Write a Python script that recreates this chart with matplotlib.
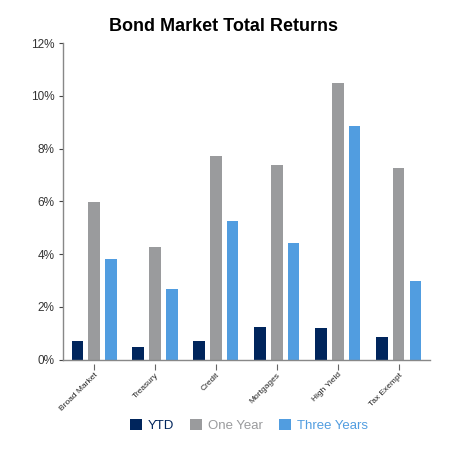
import matplotlib
matplotlib.use("Agg")
import matplotlib.pyplot as plt
import matplotlib.transforms as mtransforms
import numpy as np
from matplotlib.ticker import FuncFormatter

plt.rcParams['font.family'] = ['Liberation Sans', 'DejaVu Sans']

categories = ["Broad Market", "Treasury", "Credit", "Mortgages", "High Yield", "Tax Exempt"]
ytd = [0.72, 0.49, 0.72, 1.24, 1.19, 0.85]
one_year = [5.97, 4.29, 7.71, 7.37, 10.48, 7.26]
three_years = [3.81, 2.68, 5.27, 4.43, 8.85, 2.97]
series_names = ["YTD", "One Year", "Three Years"]
colors = ["#00255c", "#9a9b9d", "#519de0"]

fig = plt.figure(figsize=(4.5, 4.5), dpi=100)
ax = fig.add_axes([0.14, 0.2007, 0.815, 0.7033])

x = np.arange(len(categories))
w = 0.19
off = 0.275
handles = []
for i, (vals, c, name) in enumerate(zip([ytd, one_year, three_years], colors, series_names)):
    b = ax.bar(x + (i - 1) * off, vals, width=w, color=c, label=name, zorder=2)
    handles.append(b)

ax.set_xlim(-0.51, 5.51)
ax.set_ylim(0, 12)
ax.set_yticks(np.arange(0, 13, 2))
ax.yaxis.set_major_formatter(FuncFormatter(lambda v, p: f"{int(v)}%"))
ax.set_xticks(x)
ax.set_xticklabels(categories, rotation=45, ha='right', rotation_mode='anchor', fontsize=6, color='#222222')
# shift x labels slightly left
shift = mtransforms.ScaledTranslation(-6.5 / 100, 0, fig.dpi_scale_trans)
for lab in ax.get_xticklabels():
    lab.set_transform(lab.get_transform() + shift)
ax.tick_params(axis='y', labelsize=8.5, colors='#444444', length=3, width=0.8, pad=3, labelcolor='#333333')
ax.tick_params(axis='x', length=0, pad=8.5, labelcolor='#222222')
# detached category tick marks
tick_tr = mtransforms.blended_transform_factory(ax.transData, ax.transAxes) + \
    mtransforms.ScaledTranslation(0, -7.5 / 100, fig.dpi_scale_trans)
ax.plot(x, np.zeros(len(x)), linestyle='none', marker='|', markersize=4.5, markeredgewidth=0.8,
        color='#666666', transform=tick_tr, clip_on=False)
for s in ['top', 'right']:
    ax.spines[s].set_visible(False)
for s in ['left', 'bottom']:
    ax.spines[s].set_color('#888888')
    ax.spines[s].set_linewidth(1.0)

fig.text(0.497, 0.941, "Bond Market Total Returns", ha='center', va='center', fontsize=13, fontweight='bold', color='black')

leg = fig.legend(handles=handles, labels=series_names, loc='center', bbox_to_anchor=(0.553, 0.055),
                 ncol=3, frameon=False, fontsize=9.5, handlelength=0.9, handleheight=0.9,
                 handletextpad=0.45, columnspacing=1.2)
for t, c in zip(leg.get_texts(), colors):
    t.set_color(c)

fig.savefig("out.png", dpi=100)
